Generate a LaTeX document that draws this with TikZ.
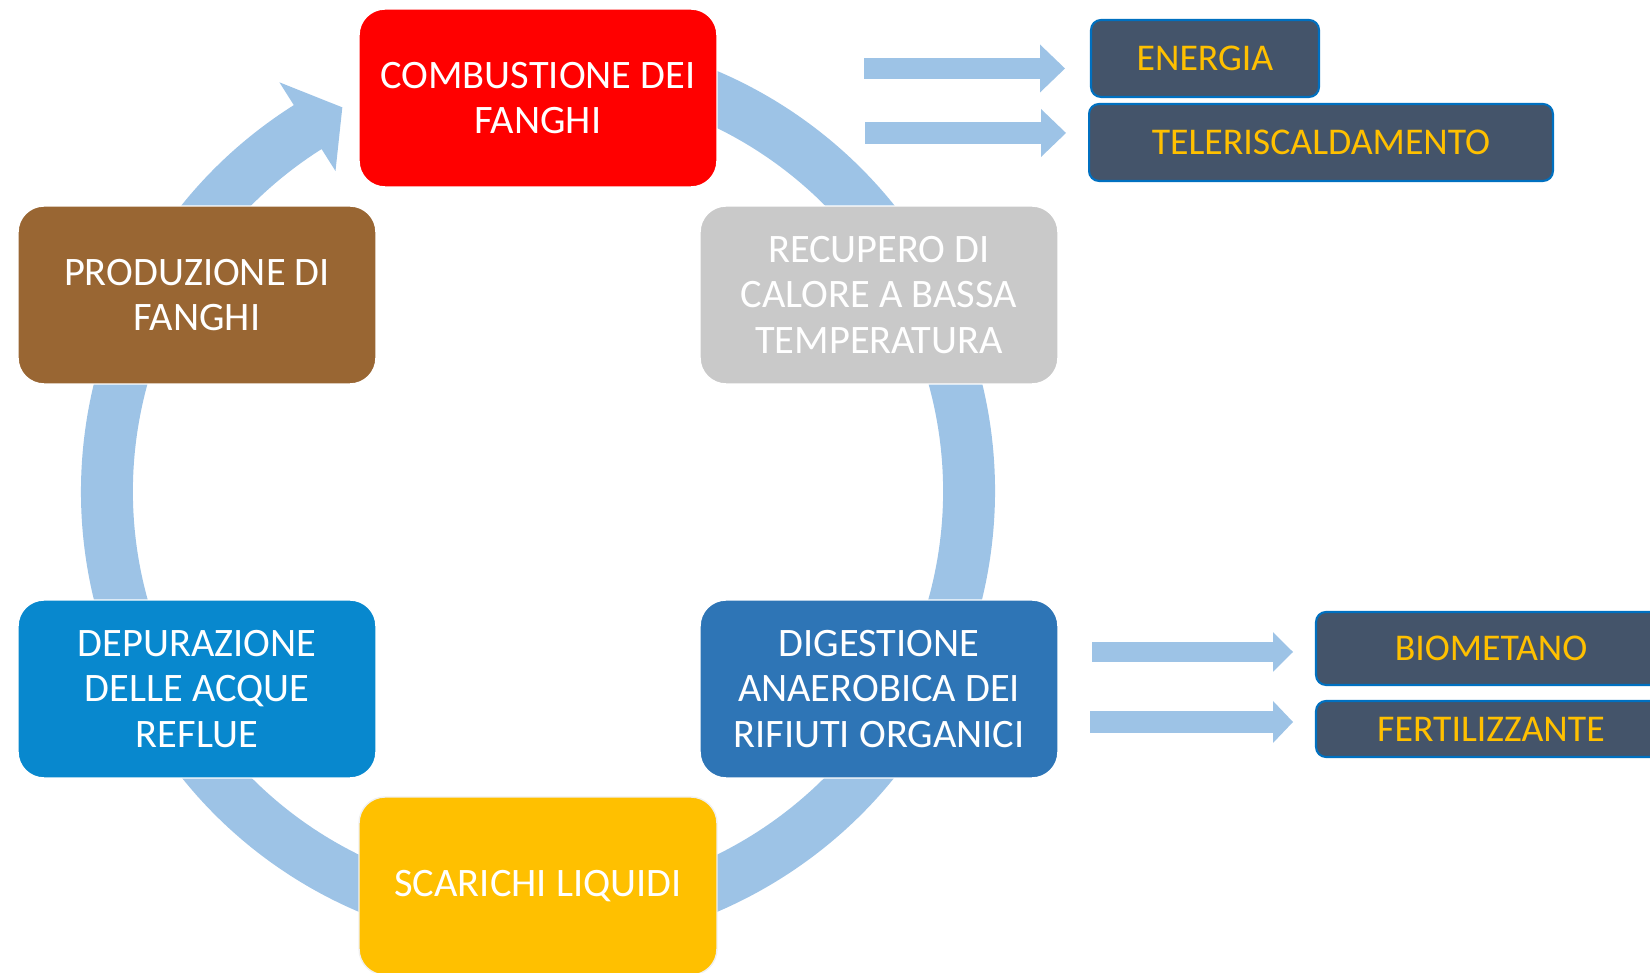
\documentclass[tikz,border=0pt]{standalone}
\usepackage{fontspec}
\setmainfont{Carlito}
\usetikzlibrary{arrows.meta}
\definecolor{Flow}{HTML}{9DC3E6}
\definecolor{Fire}{HTML}{FF0000}
\definecolor{Mud}{HTML}{996633}
\definecolor{Heat}{HTML}{C9C9C9}
\definecolor{Water}{HTML}{0888CE}
\definecolor{Digest}{HTML}{2E75B6}
\definecolor{Drain}{HTML}{FFC000}
\definecolor{Slate}{HTML}{44546A}
\definecolor{Edge}{HTML}{0070C0}

\begin{document}
\begin{tikzpicture}[x=0.02cm,y=0.02cm,every node/.style={font=\fontsize{23}{25.7}\selectfont},stage/.style={rounded corners=0.52cm,minimum width=7.16cm,minimum height=3.56cm,align=center,text=white,draw=white,line width=0.8pt},output/.style={rounded corners=0.2cm,minimum height=1.54cm,fill=Slate,draw=Edge,line width=1.2pt,text=Drain,font=\fontsize{21.5}{25}\selectfont},ring/.style={fill=Flow},flow/.style={draw=Flow,-{Triangle[length=0.5cm,width=0.96cm,line width=0pt]}}]
\clip (0,0) rectangle (1650,973);
\coordinate (C) at (538,481.6);
\fill[ring,shift={(C)}] (122.3:457) arc[start angle=122.3,end angle=432,radius=457] -- (432:405) arc[start angle=432,end angle=122.3,radius=405] -- (122.3:379) -- (117:431) -- (122.3:484) -- cycle;
\node[stage,fill=Fire] (comb) at (538,875) {COMBUSTIONE DEI\\FANGHI};
\node[stage,fill=Mud] (prod) at (197,678) {PRODUZIONE DI\\FANGHI};
\node[stage,fill=Heat] (recu) at (879,678) {RECUPERO DI\\CALORE A BASSA\\TEMPERATURA};
\node[stage,fill=Water] (depu) at (197,284) {DEPURAZIONE\\DELLE ACQUE\\REFLUE};
\node[stage,fill=Digest] (dige) at (879,284) {DIGESTIONE\\ANAEROBICA DEI\\RIFIUTI ORGANICI};
\node[stage,fill=Drain,draw=black!6] (scar) at (538,87) {SCARICHI LIQUIDI};
\node[output,minimum width=4.56cm] (ener) at (1205,914.5) {ENERGIA};
\node[output,minimum width=9.28cm] (tele) at (1321,830.5) {TELERISCALDAMENTO};
\node[output,minimum width=7cm,minimum height=1.46cm] (biom) at (1491,324.5) {BIOMETANO};
\node[output,minimum width=7cm,minimum height=1.12cm] (fert) at (1491,244) {FERTILIZZANTE};
\coordinate (e1) at (864,904.5);
\coordinate (e1t) at (1065,904.5);
\coordinate (e2) at (865,840);
\coordinate (e2t) at (1066,840);
\coordinate (b1) at (1092,321);
\coordinate (b1t) at (1293,321);
\coordinate (b2) at (1090,251);
\coordinate (b2t) at (1293,251);
\draw[flow,line width=0.42cm] (e1) -- (e1t);
\draw[flow,line width=0.44cm] (e2) -- (e2t);
\draw[flow,line width=0.4cm,-{Triangle[length=0.4cm,width=0.79cm,line width=0pt]}] (b1) -- (b1t);
\draw[flow,line width=0.44cm,-{Triangle[length=0.4cm,width=0.84cm,line width=0pt]}] (b2) -- (b2t);
\end{tikzpicture}
\end{document}
